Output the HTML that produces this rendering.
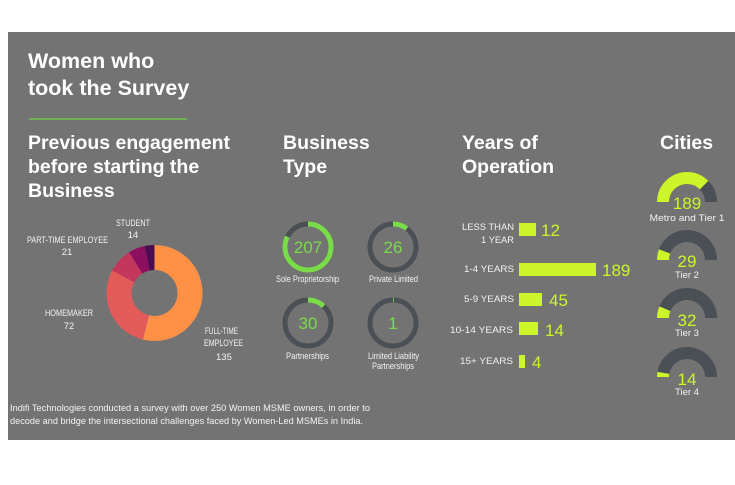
<!DOCTYPE html>
<html><head><meta charset="utf-8"><style>
body{margin:0;background:#fff;}
svg{display:block;font-family:"Liberation Sans Narrow","Liberation Sans",sans-serif;}
.h{font-family:"Liberation Sans",sans-serif;font-weight:bold;fill:#fff;}
.l{fill:#f2f2f2;font-size:9.5px;}
.g{fill:#7bdc4a;font-family:"Liberation Sans",sans-serif;}
.y{fill:#ccf52a;font-family:"Liberation Sans",sans-serif;}
</style></head><body>
<svg width="735" height="485" viewBox="0 0 735 485">
<rect x="8" y="32" width="727" height="408" fill="#737373"/>
<text class="h" x="28" y="68" font-size="21.5">Women who</text>
<text class="h" x="28" y="95" font-size="21.5">took the Survey</text>
<line x1="29" y1="119" x2="187" y2="119" stroke="#6cc24a" stroke-width="1.5"/>
<text class="h" x="28" y="149" font-size="19.5" textLength="202" lengthAdjust="spacingAndGlyphs">Previous engagement</text>
<text class="h" x="28" y="173" font-size="19.5">before starting the</text>
<text class="h" x="28" y="197" font-size="19.5">Business</text>
<text class="h" x="283" y="149" font-size="19.5">Business</text>
<text class="h" x="283" y="173" font-size="19.5">Type</text>
<text class="h" x="462" y="149" font-size="19.5">Years of</text>
<text class="h" x="462" y="173" font-size="19.5">Operation</text>
<text class="h" x="660" y="149" font-size="19.5">Cities</text>

<!-- donut -->
<g transform="rotate(-90 154.5 293)" fill="none" stroke-width="25">
<circle cx="154.5" cy="293" r="35.5" pathLength="360" stroke="#ff9147" stroke-dasharray="194 360"/>
<circle cx="154.5" cy="293" r="35.5" pathLength="360" stroke="#e35b58" stroke-dasharray="104 360" stroke-dashoffset="-194"/>
<circle cx="154.5" cy="293" r="35.5" pathLength="360" stroke="#c1385c" stroke-dasharray="30 360" stroke-dashoffset="-298"/>
<circle cx="154.5" cy="293" r="35.5" pathLength="360" stroke="#8c0f60" stroke-dasharray="20 360" stroke-dashoffset="-328"/>
<circle cx="154.5" cy="293" r="35.5" pathLength="360" stroke="#4a0d4f" stroke-dasharray="12 360" stroke-dashoffset="-348"/>
</g>
<text class="l" x="116" y="226" textLength="34" lengthAdjust="spacingAndGlyphs">STUDENT</text>
<text class="l" x="133" y="238" text-anchor="middle">14</text>
<text class="l" x="27" y="243" textLength="81" lengthAdjust="spacingAndGlyphs">PART-TIME EMPLOYEE</text>
<text class="l" x="67" y="255" text-anchor="middle">21</text>
<text class="l" x="45" y="316" textLength="48" lengthAdjust="spacingAndGlyphs">HOMEMAKER</text>
<text class="l" x="69" y="329" text-anchor="middle">72</text>
<text class="l" x="205" y="334" textLength="33" lengthAdjust="spacingAndGlyphs">FULL-TIME</text>
<text class="l" x="204" y="346" textLength="39" lengthAdjust="spacingAndGlyphs">EMPLOYEE</text>
<text class="l" x="216" y="360">135</text>

<!-- business type -->
<g fill="none" stroke-width="5">
<circle cx="308" cy="247" r="23" stroke="#4b5057"/>
<circle cx="308" cy="247" r="23" stroke="#7bdc4a" pathLength="360" stroke-dasharray="298 360" transform="rotate(-90 308 247)"/>
<circle cx="393" cy="247" r="23" stroke="#4b5057"/>
<circle cx="393" cy="247" r="23" stroke="#7bdc4a" pathLength="360" stroke-dasharray="37 360" transform="rotate(-90 393 247)"/>
<circle cx="308" cy="323" r="23" stroke="#4b5057"/>
<circle cx="308" cy="323" r="23" stroke="#7bdc4a" pathLength="360" stroke-dasharray="43 360" transform="rotate(-90 308 323)"/>
<circle cx="393" cy="323" r="23" stroke="#4b5057"/>
<circle cx="393" cy="323" r="23" stroke="#7bdc4a" pathLength="360" stroke-dasharray="2 360" transform="rotate(-90 393 323)"/>
</g>
<g class="g" font-size="17" text-anchor="middle">
<text x="308" y="253">207</text><text x="393" y="253">26</text>
<text x="308" y="329">30</text><text x="393" y="329">1</text>
</g>
<g class="l" font-size="8.5">
<text x="276" y="282" textLength="63" lengthAdjust="spacingAndGlyphs">Sole Proprietorship</text>
<text x="369" y="282" textLength="49" lengthAdjust="spacingAndGlyphs">Private Limited</text>
<text x="286" y="359" textLength="43" lengthAdjust="spacingAndGlyphs">Partnerships</text>
<text x="368" y="359" textLength="51" lengthAdjust="spacingAndGlyphs">Limited Liability</text>
<text x="372" y="369" textLength="42" lengthAdjust="spacingAndGlyphs">Partnerships</text>
</g>

<!-- years -->
<g class="l" font-size="10">
<text x="462" y="230" textLength="52" lengthAdjust="spacingAndGlyphs">LESS THAN</text>
<text x="481" y="243" textLength="33" lengthAdjust="spacingAndGlyphs">1 YEAR</text>
<text x="464" y="272" textLength="50" lengthAdjust="spacingAndGlyphs">1-4 YEARS</text>
<text x="464" y="302" textLength="50" lengthAdjust="spacingAndGlyphs">5-9 YEARS</text>
<text x="450" y="333" textLength="63" lengthAdjust="spacingAndGlyphs">10-14 YEARS</text>
<text x="460" y="364" textLength="53" lengthAdjust="spacingAndGlyphs">15+ YEARS</text>
</g>
<g fill="#ccf52a">
<rect x="519" y="223" width="17" height="13"/>
<rect x="519" y="263" width="77" height="13"/>
<rect x="519" y="293" width="23" height="13"/>
<rect x="519" y="322" width="19" height="13"/>
<rect x="519" y="355" width="6" height="13"/>
</g>
<g class="y" font-size="17">
<text x="541" y="236">12</text>
<text x="602" y="276">189</text>
<text x="549" y="306">45</text>
<text x="545" y="336">14</text>
<text x="532" y="368">4</text>
</g>

<!-- cities -->
<g fill="none" stroke-width="12">
<path d="M663 202 A24 24 0 0 1 711 202" stroke="#4b5057"/>
<path d="M663 202 A24 24 0 0 1 711 202" stroke="#ccf52a" pathLength="180" stroke-dasharray="136 200"/>
<path d="M663 260 A24 24 0 0 1 711 260" stroke="#4b5057"/>
<path d="M663 260 A24 24 0 0 1 711 260" stroke="#ccf52a" pathLength="180" stroke-dasharray="21 200"/>
<path d="M663 318 A24 24 0 0 1 711 318" stroke="#4b5057"/>
<path d="M663 318 A24 24 0 0 1 711 318" stroke="#ccf52a" pathLength="180" stroke-dasharray="23 200"/>
<path d="M663 377 A24 24 0 0 1 711 377" stroke="#4b5057"/>
<path d="M663 377 A24 24 0 0 1 711 377" stroke="#ccf52a" pathLength="180" stroke-dasharray="10 200"/>
</g>
<g class="y" font-size="17" text-anchor="middle">
<text x="687" y="209">189</text>
<text x="687" y="267">29</text>
<text x="687" y="326">32</text>
<text x="687" y="385">14</text>
</g>
<g class="l" font-size="10" text-anchor="middle">
<text x="687" y="221" textLength="75" lengthAdjust="spacingAndGlyphs">Metro and Tier 1</text>
<text x="687" y="278">Tier 2</text>
<text x="687" y="336">Tier 3</text>
<text x="687" y="395">Tier 4</text>
</g>

<text class="l" x="10" y="411" font-size="9.8" textLength="360" lengthAdjust="spacingAndGlyphs">Indifi Technologies conducted a survey with over 250 Women MSME owners, in order to</text>
<text class="l" x="10" y="424" font-size="9.8" textLength="353" lengthAdjust="spacingAndGlyphs">decode and bridge the intersectional challenges faced by Women-Led MSMEs in India.</text>
</svg>
</body></html>
